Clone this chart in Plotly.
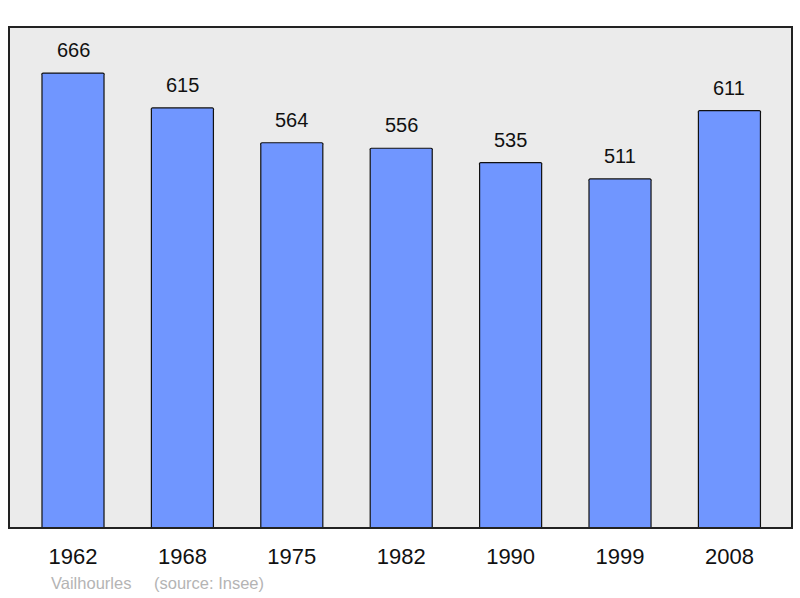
import plotly.graph_objects as go

years = ["1962", "1968", "1975", "1982", "1990", "1999", "2008"]
population = [666, 615, 564, 556, 535, 511, 611]

W, H = 800, 598
L, R, T, B = 9, 8, 27, H - 528

FONT = "Liberation Sans, Arial"
xs = list(range(len(years)))
fig = go.Figure()
fig.add_trace(go.Bar(
    x=xs, y=population, width=0.567,
    marker=dict(color="#7096ff", line=dict(color="#111111", width=1.2), cornerradius=2),
    hoverinfo="skip",
))

anns = []
for i, v in zip(xs, population):
    anns.append(dict(x=i, y=v, text=str(v), showarrow=False, yanchor="bottom",
                     yshift=10, font=dict(family=FONT, size=20, color="#111")))

pw, ph = W - L - R, H - T - B
cap_y = -(583 - (H - B)) / ph
anns += [
    dict(xref="paper", yref="paper", x=(49 - L) / pw, y=cap_y,
         xanchor="left", yanchor="middle", showarrow=False, text="Vailhourles",
         font=dict(family=FONT, size=16.5, color="#b4b4b4")),
    dict(xref="paper", yref="paper", x=(152 - L) / pw, y=cap_y,
         xanchor="left", yanchor="middle", showarrow=False, text="(source: Insee)",
         font=dict(family=FONT, size=16.5, color="#b4b4b4")),
]

fig.update_layout(
    width=W, height=H,
    margin=dict(l=L, r=R, t=T, b=B),
    paper_bgcolor="white", plot_bgcolor="#ebebeb",
    showlegend=False,
    bargap=0,
    xaxis=dict(range=[-0.585, 6.572], tickvals=xs, ticktext=years,
               showgrid=False, zeroline=False, showline=False,
               ticks="outside", ticklen=9, tickcolor="rgba(0,0,0,0)",
               tickfont=dict(family=FONT, size=22, color="#111")),
    yaxis=dict(range=[0, 733.5], showgrid=False, zeroline=False, showticklabels=False,
               showline=False),
    shapes=[dict(type="rect", xref="paper", yref="paper", x0=0, x1=1, y0=0, y1=1,
                 line=dict(color="#222", width=2), layer="above")],
    annotations=anns,
)

fig.write_html("out.html", config={"displayModeBar": False, "staticPlot": True},
               post_script="document.body.style.margin='0';document.body.style.overflow='hidden';")
